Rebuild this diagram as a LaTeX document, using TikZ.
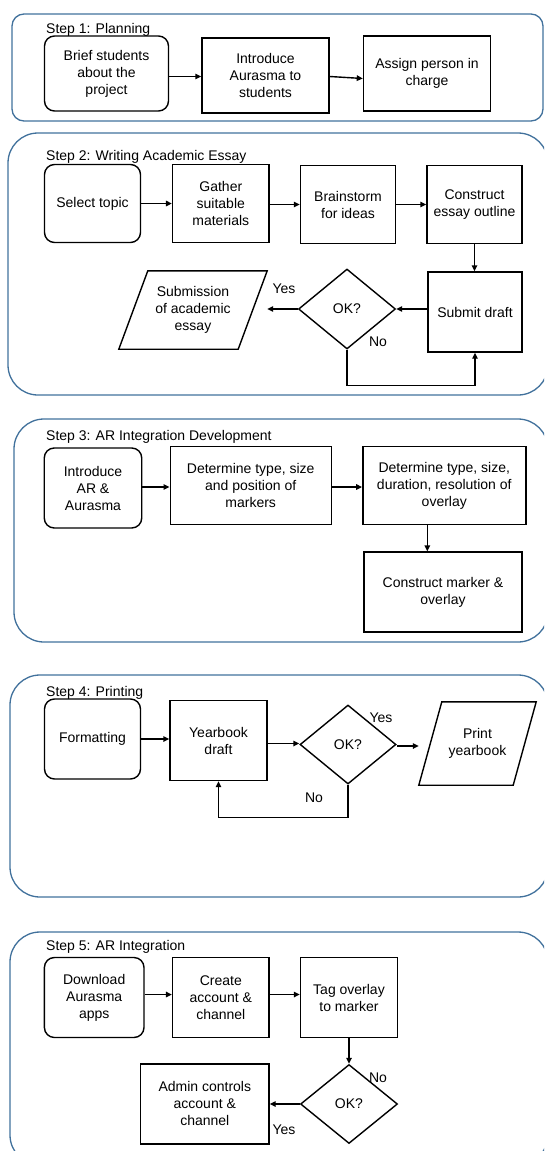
\documentclass[tikz,border=0pt]{standalone}
\usepackage{fontspec}
\setmainfont{Liberation Sans}
\usetikzlibrary{shapes.geometric,arrows.meta,calc}
\definecolor{frameblue}{HTML}{41719C}
\begin{document}
\begin{tikzpicture}[x=1pt,y=-1pt,
  font=\fontsize{14pt}{17pt}\selectfont,
  frame/.style={draw=frameblue,line width=1.3pt},
  box/.style={draw,line width=1.4pt,align=center,inner sep=0pt},
  rbox/.style={box,rounded corners=10pt},
  dia/.style={draw,line width=1.4pt,diamond,inner sep=0pt,align=center},
  para/.style={inner sep=0pt,align=center},
  arr/.style={line width=1.4pt,-{Triangle[length=6pt,width=5.5pt]}},
  lbl/.style={inner sep=0pt},
  ttl/.style={anchor=base west,inner sep=0pt}
]
\useasboundingbox (0,0) rectangle (544,1151);
\clip (0,0) rectangle (544,1151);

% containers
\draw[frame,rounded corners=12pt] (12,14) rectangle (543,121);
\draw[frame,rounded corners=30pt] (8,133) rectangle (548,395);
\draw[frame,rounded corners=30pt] (14,419) rectangle (548,642);
\draw[frame,rounded corners=30pt] (10,675) rectangle (548,897);
\draw[frame,rounded corners=30pt] (10,932) rectangle (548,1165);

% ---------- Step 1
\node[ttl] (t1) at (46,33) {Step 1: Planning};
\node[rbox,minimum width=124pt,minimum height=75pt] (b1) at (106.5,73.5) {Brief students\\about the\\project};
\node[box,minimum width=127pt,minimum height=75pt] (b2) at (265.5,75.5) {Introduce\\Aurasma to\\students};
\node[box,minimum width=127pt,minimum height=75pt] (b3) at (427,73.5) {Assign person in\\charge};
\draw[arr] ([yshift=-3pt]b1.east) -- ([yshift=-3pt]b1.east -| b2.west);
\draw[arr] ([yshift=-1pt]b2.east) -- ([yshift=-5pt]b3.west);

% ---------- Step 2
\node[ttl] (t2) at (46,160) {Step 2: Writing Academic Essay};
\node[rbox,minimum width=96pt,minimum height=78pt] (s2a) at (92.5,203.5) {Select topic};
\node[box,minimum width=96.5pt,minimum height=78pt] (s2b) at (220.8,203.5) {Gather\\suitable\\materials};
\node[box,minimum width=95pt,minimum height=78pt] (s2c) at (348,204.5) {Brainstorm\\for ideas};
\node[box,minimum width=95pt,minimum height=78pt] (s2d) at (474.5,204.5) {Construct\\essay outline};
\node[box,minimum width=94pt,minimum height=80pt] (s2e) at (475,312) {Submit draft};
\node[dia,minimum width=97pt,minimum height=80pt] (s2f) at (347,309) {OK?};
\node[para,minimum width=148pt,minimum height=78pt] (s2g) at (193,310) {Submission\\of academic\\essay};
\draw[line width=1.4pt] (s2g.south west) -- ([xshift=-29pt]s2g.south east) -- (s2g.north east) -- ([xshift=29pt]s2g.north west) -- cycle;
\draw[arr] (s2a.east) -- (s2a.east -| s2b.west);
\draw[arr] ([yshift=-1pt]s2b.east) -- ([yshift=-1pt]s2b.east -| s2c.west);
\draw[arr] (s2c.east) -- (s2c.east -| s2d.west);
\draw[arr] (s2d.south) -- (s2d.south |- s2e.north);
\draw[arr] (s2e.west |- s2f.east) -- (s2f.east);
\draw[arr] (s2f.west) -- (s2f.west -| s2g.east);
\draw[arr] (s2f.south) -- ++(0,36) -| (s2e.south);
\node[lbl] (y2) at (284,289) {Yes};
\node[lbl] (n2) at (378,342) {No};

% ---------- Step 3
\node[ttl] (t3) at (46,440) {Step 3: AR Integration Development};
\node[rbox,minimum width=97.5pt,minimum height=80pt] (s3a) at (93,488) {Introduce\\AR \&\\Aurasma};
\node[box,minimum width=161pt,minimum height=78pt] (s3b) at (250.7,485.5) {Determine type, size\\and position of\\markers};
\node[box,minimum width=163pt,minimum height=78pt] (s3c) at (444.3,485.5) {Determine type, size,\\duration, resolution of\\overlay};
\node[box,minimum width=158pt,minimum height=80pt] (s3d) at (443,592) {Construct marker \&\\overlay};
\draw[arr] ([yshift=-1.5pt]s3a.east |- s3b) -- ([yshift=-1.5pt]s3b.west);
\draw[arr] ([yshift=-1.5pt]s3b.east) -- ([yshift=-1.5pt]s3c.west);
\draw[arr] ([xshift=-17pt]s3c.south) -- ([xshift=-17pt]s3c.south |- s3d.north);

% ---------- Step 4
\node[ttl] (t4) at (46,696) {Step 4: Printing};
\node[rbox,minimum width=96pt,minimum height=80pt] (s4a) at (92.5,739) {Formatting};
\node[box,minimum width=97pt,minimum height=80pt] (s4b) at (218.5,740.5) {Yearbook\\draft};
\node[dia,minimum width=96pt,minimum height=79pt] (s4c) at (348,744.5) {OK?};
\node[para,minimum width=117pt,minimum height=83pt] (s4d) at (477.5,743.5) {Print\\yearbook};
\draw[line width=1.4pt] (s4d.south west) -- ([xshift=-23pt]s4d.south east) -- (s4d.north east) -- ([xshift=23pt]s4d.north west) -- cycle;
\draw[arr] (s4a.east) -- (s4a.east -| s4b.west);
\draw[arr] ([yshift=-3pt]s4b.east) -- ([yshift=-3pt]s4b.east -| s4c.west);
\draw[arr] ([yshift=-1.5pt]s4c.east) -- ([yshift=-1.5pt]s4c.east -| s4d.west);
\draw[arr] (s4c.south) -- ++(0,33) -| (s4b.south);
\node[lbl] (y4) at (381,718) {Yes};
\node[lbl] (n4) at (314,798) {No};

% ---------- Step 5
\node[ttl] (t5) at (46,950) {Step 5: AR Integration};
\node[rbox,minimum width=99.6pt,minimum height=80pt] (s5a) at (94.2,997.5) {Download\\Aurasma\\apps};
\node[box,minimum width=96.5pt,minimum height=80pt] (s5b) at (220.8,997.5) {Create\\account \&\\channel};
\node[box,minimum width=97pt,minimum height=80pt] (s5c) at (349,997.5) {Tag overlay\\to marker};
\node[dia,minimum width=97pt,minimum height=79pt] (s5d) at (349,1104) {OK?};
\node[box,minimum width=128.4pt,minimum height=80pt] (s5e) at (204.8,1103.8) {Admin controls\\account \&\\channel};
\draw[arr] ([yshift=3pt]s5a.east) -- ([yshift=3pt]s5a.east -| s5b.west);
\draw[arr] ([yshift=3pt]s5b.east) -- ([yshift=3pt]s5b.east -| s5c.west);
\draw[arr] (s5c.south) -- (s5d.north);
\draw[arr] (s5d.west) -- (s5d.west -| s5e.east);
\node[lbl] (n5) at (378,1078) {No};
\node[lbl] (y5) at (284,1130) {Yes};
\end{tikzpicture}
\end{document}
